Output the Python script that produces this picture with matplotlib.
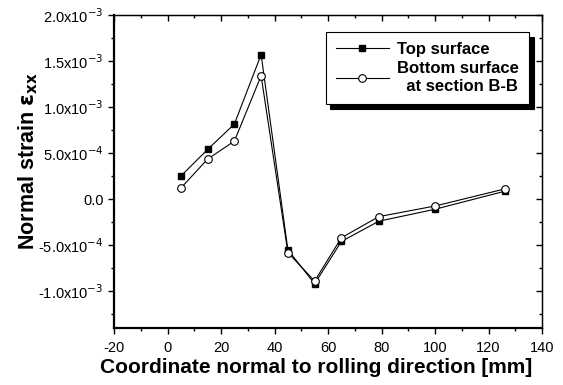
import numpy as np
import matplotlib.pyplot as plt
from matplotlib.ticker import MultipleLocator, FixedLocator

plt.rcParams['font.family'] = ['Liberation Sans', 'DejaVu Sans']
plt.rcParams['axes.unicode_minus'] = False

# data
x_pos = [5, 15, 25, 35, 45, 55, 65, 79, 100, 126]
top_surface = [2.5e-4, 5.4e-4, 8.15e-4, 1.57e-3, -5.5e-4, -9.2e-4, -4.6e-4, -2.4e-4, -1.1e-4, 0.85e-4]
bottom_surface = [1.2e-4, 4.35e-4, 6.3e-4, 1.34e-3, -5.8e-4, -8.9e-4, -4.2e-4, -1.9e-4, -0.75e-4, 1.1e-4]

y_ticks = [-1.0e-3, -5.0e-4, 0.0, 5.0e-4, 1.0e-3, 1.5e-3, 2.0e-3]
y_labels = ['-1.0x10$^{-3}$', '-5.0x10$^{-4}$', '0.0', '5.0x10$^{-4}$',
            '1.0x10$^{-3}$', '1.5x10$^{-3}$', '2.0x10$^{-3}$']

fig = plt.figure(figsize=(5.63, 3.85), dpi=100)
ax = fig.add_axes([114/563, 1 - 328/385, (542-114)/563, (328-15)/385])

ax.plot(x_pos, top_surface, '-', color='black', lw=0.8, marker='s', ms=5,
        mfc='black', mec='black', label='Top surface')
ax.plot(x_pos, bottom_surface, '-', color='black', lw=0.8, marker='o', ms=5.5,
        mfc='white', mec='black', mew=0.8, label='Bottom surface\n  at section B-B')

ax.set_xlim(-20, 140)
ax.set_ylim(-1.4e-3, 2.0e-3)
ax.xaxis.set_major_locator(MultipleLocator(20))
ax.xaxis.set_minor_locator(MultipleLocator(10))
ax.yaxis.set_major_locator(FixedLocator(y_ticks))
ax.yaxis.set_minor_locator(MultipleLocator(2.5e-4))
ax.set_yticklabels(y_labels)

ax.tick_params(axis='both', which='major', labelsize=10.5, length=4, width=1, direction='out')
ax.tick_params(axis='both', which='minor', length=2.5, width=1, direction='out')
ax.tick_params(axis='x', which='major', pad=5)

# mirror ticks on top/right point inward
top = ax.secondary_xaxis('top')
top.xaxis.set_major_locator(MultipleLocator(20))
top.xaxis.set_minor_locator(MultipleLocator(10))
top.tick_params(which='major', direction='in', length=4, width=1, labeltop=False)
top.tick_params(which='minor', direction='in', length=2.5, width=1)
right = ax.secondary_yaxis('right')
right.yaxis.set_major_locator(FixedLocator(y_ticks))
right.yaxis.set_minor_locator(MultipleLocator(2.5e-4))
right.tick_params(which='major', direction='in', length=4, width=1, labelright=False)
right.tick_params(which='minor', direction='in', length=2.5, width=1)

for side in ['left', 'bottom']:
    ax.spines[side].set_linewidth(1.6)
for side in ['top', 'right']:
    ax.spines[side].set_linewidth(1.0)

ax.set_xlabel('Coordinate normal to rolling direction [mm]', fontsize=15,
              fontweight='bold')
ax.xaxis.set_label_coords(0.472, -0.097)
ax.set_ylabel('Normal strain $\\mathbf{\\varepsilon_{xx}}$', fontsize=15.5,
              fontweight='bold')
ax.yaxis.set_label_coords(-0.172, 0.534)

leg = ax.legend(loc='upper right', bbox_to_anchor=(0.97, 0.945), borderaxespad=0,
                prop={'weight': 'bold', 'size': 12}, frameon=True, fancybox=False,
                shadow={'color': 'black', 'alpha': 1, 'ox': 3.5, 'oy': -3.5}, edgecolor='black',
                handlelength=3.2, handletextpad=0.5, borderpad=0.6,
                labelspacing=0.25)
leg.get_frame().set_linewidth(0.8)

fig.savefig('out.png', dpi=100)
